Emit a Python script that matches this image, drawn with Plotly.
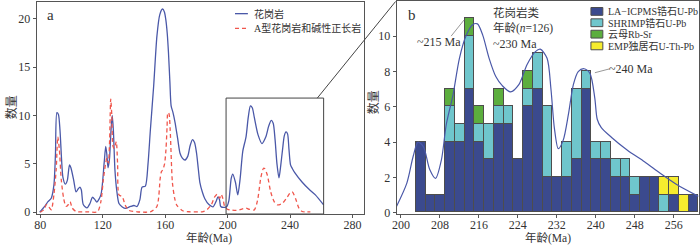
import plotly.graph_objects as go

W, H = 700, 249

# ---------------- data: panel a (KDE curves) ----------------
granite_x = [79.6, 82.8, 84.9, 87, 88.7, 89.7, 90.6, 91.6, 92.6, 93.6, 94.5, 96.0, 97.3, 98.7, 99.6,
             101.4, 102.9, 104.2, 105.4, 106.3, 107.5, 109.9, 111.8, 113.4, 115, 116.2, 118.8, 120.9,
             121.9, 122.6, 123.4, 124.3, 125.3, 126.1, 126.8, 127.8, 129, 130.4, 132.5, 134.6, 137.8,
             140, 142, 143.8, 145.2, 147.3, 149, 150.5, 152.6, 154.7, 156.5, 158.3, 159.5, 160.4, 161.3,
             162.1, 163, 163.8, 165, 166.3, 168, 169.5, 171, 172.7, 174.5, 176, 177.5, 178.8, 180.1,
             181.2, 182.2, 183.8, 185.4, 188, 190.7, 192.8, 193.8, 194.8, 195.6, 198.1, 199.5, 200.8,
             202.3, 203.3, 205.0, 206.5, 208.0, 209.7, 211.8, 213.2, 214.6, 215.8, 217.1, 219.5, 222,
             224.5, 226.3, 227.9, 229.2, 230.4, 231.6, 232.9, 234.0, 235.2, 236.3, 237.4, 238.4, 239.3,
             240.3, 241.5, 243, 247.8, 252, 256.2, 261.5]
granite_y = [0.0, 0.6, 1.1, 1.45, 2.8, 6.0, 10.3, 10.1, 8.5, 5.5, 3.6, 2.9, 3.3, 4.9, 4.6,
             3.3, 2.1, 2.4, 2.6, 2.3, 0.8, 0.45, 0.9, 1.55, 1.3, 1.05, 1.8, 5.1,
             6.8, 6.0, 4.6, 5.5, 8.5, 10.0, 8.5, 4.4, 2.2, 0.9, 0.55, 0.4, 0.6,
             0.7, 0.6, 1.3, 2.6, 2.7, 5.0, 8.5, 13.0, 18.2, 20.4, 21.0, 20.7, 19.9, 18.5,
             16.5, 13.5, 11.0, 10.3, 9.3, 7.6, 6.1, 5.6, 5.4, 5.8, 6.9, 7.5, 7.2, 6.1,
             4.5, 3.1, 2.1, 1.4, 0.8, 0.57, 1.2, 1.6, 1.3, 0.6, 0.5, 0.6, 1.2,
             3.5, 3.95, 3.1, 1.8, 3.45, 6.3, 7.8, 9.8, 11.0, 10.8, 9.8, 8.0, 7.1,
             7.8, 8.9, 9.5, 9.2, 7.5, 5.0, 3.55, 4.8, 6.5, 7.9, 8.3, 8.1, 6.5,
             4.9, 4.5, 4.1, 3.1, 2.4, 1.8, 0.76]

atype_x = [80, 82.5, 83.9, 85.3, 87, 88.7, 90.2, 91.2, 92.2, 93.4, 95, 96.5, 98, 99.1, 100.4, 102.9,
           110, 116.6, 118.8, 120.4, 121.9, 122.6, 123.6, 124.4, 125.1, 125.8, 126.6, 127.4, 128.1,
           128.7, 129.5, 130.4, 132.5, 134.5, 136.7, 142, 150.5, 154.7, 156.8, 157.6, 158.5, 159.6,
           160.5, 161.2, 161.7, 162.4, 163.2, 164.6, 166, 167.4, 171.6, 176, 184.3, 187, 189.6,
           191.7, 193.4, 194.9, 195.9, 197, 198.1, 200, 202, 205, 207.5, 209.5, 211.8, 214, 217.1,
           219.2, 221.3, 223, 223.8, 225.5, 227.6, 229.8, 231.9, 235.1, 238.3, 240, 241.4, 243.5,
           245.7, 247.8, 253]
atype_y = [0.0, 0.3, 0.8, 0.6, 0.25, 1.8, 4.5, 7.8, 6.5, 3.4, 1.4, 0.6, 0.8, 1.1, 0.45, 0.08,
           0.05, 0.05, 1.1, 3.4, 5.1, 5.6, 5.1, 7.5, 11.7, 10.0, 6.8, 6.6, 7.0,
           7.3, 5.0, 1.8, 1.6, 0.7, 0.2, 0.05, 0.05, 0.6, 3.5, 4.2, 4.4, 5.0,
           6.5, 8.8, 10.3, 10.2, 8.5, 3.1, 1.5, 0.74, 0.13, 0.05, 0.07, 0.3, 0.8,
           1.6, 1.85, 1.45, 1.85, 1.4, 0.6, 0.3, 0.25, 0.2, 0.25, 0.35, 0.42, 0.3, 0.25,
           1.26, 3.6, 4.55, 4.5, 3.8, 2.1, 1.1, 0.76, 0.93, 1.6, 2.0, 2.1, 1.43,
           0.42, 0.08, 0.05]

# ---------------- data: panel b (histogram + KDE) ----------------
bin_centers = [204, 206, 208, 210, 212, 214, 216, 218, 220, 222, 224, 226, 228, 230, 232,
               234, 236, 238, 240, 242, 244, 246, 248, 250, 252, 254, 256, 258, 260]
la_icpms = [4, 1, 1, 4, 4, 7, 4, 3, 5, 5, 3, 6, 7, 2, 2, 2, 3, 7, 3, 3, 2, 2, 1, 2, 2, 0, 1, 0, 1]
shrimp   = [0, 0, 0, 2, 1, 3, 1, 2, 1, 1, 0, 1, 2, 4, 0, 2, 4, 1, 1, 1, 1, 1, 1, 0, 0, 1, 0, 0, 0]
mica_rbsr = [0, 0, 0, 1, 0, 1, 1, 0, 1, 0, 0, 1, 0, 0, 0, 0, 0, 0, 0, 0, 0, 0, 0, 0, 0, 0, 0, 0, 0]
emp_monazite = [0, 0, 0, 0, 0, 0, 0, 0, 0, 0, 0, 0, 0, 0, 0, 0, 0, 0, 0, 0, 0, 0, 0, 0, 0, 1, 1, 1, 0]

kde_b_x = [199.1, 201.2, 202.5, 203.5, 204.6, 205.9, 207.1, 208.3, 209.3, 210.7, 212, 213.4, 214.7,
           215.7, 216.8, 218.1, 219.5, 220.8, 222.5, 224.2, 225.9, 227.6, 228.6, 230, 230.8, 231.5,
           232.3, 233.3, 234.4, 235.4, 236.4, 237.6, 238.8, 239.8, 240.3, 241.1, 243.2, 246.5, 250,
           253.3, 256.7, 261.1]
kde_b_y = [0.37, 1.68, 3.2, 4.0, 3.75, 2.45, 1.95, 3.0, 5.0, 6.7, 8.75, 10.05, 10.65,
           10.7, 10.05, 8.75, 7.7, 7.2, 6.85, 7.26, 8.4, 9.13, 9.27, 8.75, 7.0, 4.8,
           3.63, 4.1, 5.6, 7.26, 8.0, 8.16, 7.9, 6.5, 5.3, 4.84, 4.28, 3.54, 2.89,
           2.23, 1.59, 0.93]

# ---------------- styling ----------------
SERIF = "Liberation Serif, Times New Roman, Noto Sans CJK SC, serif"
TXT = "#333333"
AX = "#555555"
C_LA, C_SH, C_MI, C_EMP = "#3b4a8e", "#6fc6cc", "#5cae3e", "#f6ec2e"
C_KDE = "#4a58a8"
C_RED = "#f0564c"


def px(x):
    return x / W


def py(y):
    return 1 - y / H


def nz(v):
    return [None if a == 0 else a for a in v]


fig = go.Figure()

# panel a
fig.add_trace(go.Scatter(x=granite_x, y=granite_y, mode="lines", xaxis="x", yaxis="y",
                         line=dict(color=C_KDE, width=1.3, shape="spline", smoothing=0.7),
                         showlegend=False, hoverinfo="skip"))
fig.add_trace(go.Scatter(x=atype_x, y=atype_y, mode="lines", xaxis="x", yaxis="y",
                         line=dict(color=C_RED, width=1.3, dash="4px,3px", shape="spline", smoothing=0.7),
                         showlegend=False, hoverinfo="skip"))

# panel b bars
for vals, col in [(la_icpms, C_LA), (shrimp, C_SH), (mica_rbsr, C_MI), (emp_monazite, C_EMP)]:
    fig.add_trace(go.Bar(x=bin_centers, y=nz(vals), width=2, xaxis="x2", yaxis="y2",
                         marker=dict(color=col, line=dict(color="#4d4d4d", width=1)),
                         showlegend=False, hoverinfo="skip"))
fig.add_trace(go.Scatter(x=kde_b_x, y=kde_b_y, mode="lines", xaxis="x2", yaxis="y2",
                         line=dict(color=C_KDE, width=1.2, shape="spline", smoothing=0.8),
                         showlegend=False, hoverinfo="skip"))

axis_common = dict(showgrid=False, zeroline=False, showline=True, linecolor=AX, linewidth=1,
                   mirror=True, ticks="outside", ticklen=3, tickcolor=AX,
                   tickfont=dict(family=SERIF, size=12, color=TXT))
xtick_extra = dict(ticklabelstandoff=-3)

fig.update_layout(
    width=W, height=H, margin=dict(l=0, r=0, t=0, b=0),
    paper_bgcolor="white", plot_bgcolor="white", barmode="stack", bargap=0,
    xaxis=dict(domain=[px(32), px(362)], range=[77.7, 287.3], tickvals=[80, 120, 160, 200, 240, 280],
               anchor="y", **axis_common, **xtick_extra),
    yaxis=dict(domain=[py(219.3), py(2.5)], range=[-0.18, 21.68], tickvals=[0, 5, 10, 15, 20],
               anchor="x", **axis_common),
    xaxis2=dict(domain=[px(395), px(699.5)], range=[199.1, 261.1],
                tickvals=[200, 208, 216, 224, 232, 240, 248, 256], anchor="y2",
                **axis_common, **xtick_extra),
    yaxis2=dict(domain=[py(219.3), py(1.5)], range=[-0.07, 11.97], tickvals=[0, 2, 4, 6, 8, 10],
                anchor="x2", **axis_common),
    showlegend=False,
)

shapes = []
# zoom rectangle in panel a
shapes.append(dict(type="rect", xref="x", yref="y", x0=199, x1=261.5, y0=-0.18, y1=11.8,
                   line=dict(color="#444444", width=1)))
# connecting line
shapes.append(dict(type="line", xref="paper", yref="paper", x0=px(315), y0=py(100.5),
                   x1=px(394), y1=py(1.5), line=dict(color="#444444", width=1)))
# legend a
shapes.append(dict(type="line", xref="paper", yref="paper", x0=px(232), x1=px(245),
                   y0=py(14), y1=py(14), line=dict(color=C_KDE, width=1.3)))
shapes.append(dict(type="line", xref="paper", yref="paper", x0=px(232), x1=px(245),
                   y0=py(29), y1=py(29), line=dict(color=C_RED, width=1.3, dash="4px,3px")))
# legend b swatches
for yy, col in [(11.7, C_LA), (23.3, C_SH), (35, C_MI), (47, C_EMP)]:
    shapes.append(dict(type="rect", xref="paper", yref="paper", x0=px(591), x1=px(603),
                       y0=py(yy + 4), y1=py(yy - 4), fillcolor=col,
                       line=dict(color="#4d4d4d", width=1)))
# leader lines
shapes.append(dict(type="line", xref="paper", yref="paper", x0=px(450), y0=py(37),
                   x1=px(463), y1=py(20.5), line=dict(color="#999999", width=1)))
shapes.append(dict(type="line", xref="paper", yref="paper", x0=px(595), y0=py(74.5),
                   x1=px(610), y1=py(70.5), line=dict(color="#999999", width=1)))
fig.update_layout(shapes=shapes)

ann = []


def text(x, y, s, size=11, xanchor="left", angle=0, align="left"):
    ann.append(dict(xref="paper", yref="paper", x=px(x), y=py(y), text=s, showarrow=False,
                    xanchor=xanchor, yanchor="middle", textangle=angle, align=align,
                    font=dict(family=SERIF, size=size, color=TXT)))


text(46, 15, "a", size=15, xanchor="center")
text(411, 15, "b", size=15, xanchor="center")
text(249, 14, "花岗岩", size=10)
text(249, 29, "A型花岗岩和碱性正长岩", size=10)
legend_b = ["LA−ICPMS锆石U-Pb", "SHRIMP锆石U-Pb", "云母Rb-Sr", "EMP独居石U-Th-Pb"]
for yy, s in zip([11.7, 23.3, 35, 47], legend_b):
    text(606, yy, s, size=10)
text(490, 21.5, "花岗岩类<br>年龄(<i>n</i>=126)", size=11.5)
text(437.5, 43.5, "~215 Ma", size=12, xanchor="center")
text(514, 45.5, "~230 Ma", size=12, xanchor="center")
text(631, 71, "~240 Ma", size=12, xanchor="center")
text(206, 243.5, "年龄(Ma)", size=11.5, xanchor="center")
text(548, 243.5, "年龄(Ma)", size=11.5, xanchor="center")
text(6, 110, "数量", size=12, xanchor="center", angle=-90)
text(372, 105, "数量", size=12, xanchor="center", angle=-90)
fig.update_layout(annotations=ann)

fig.write_html("out.html", config={"displayModeBar": False},
               post_script="document.body.style.margin='0';document.body.style.overflow='hidden';")
